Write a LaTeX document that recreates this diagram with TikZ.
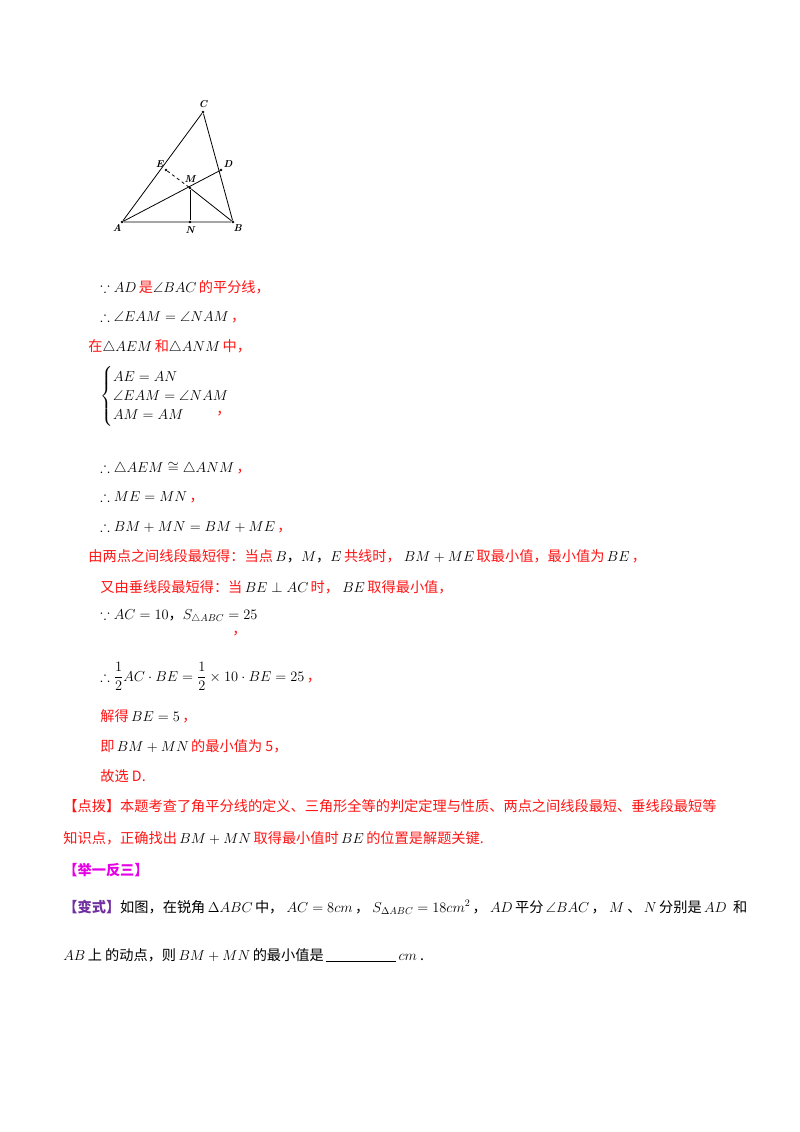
\documentclass[tikz,border=0pt]{standalone}
\usepackage{amsmath, amssymb}
\usepackage{fontspec}
\usetikzlibrary{positioning}
\newfontfamily\cjk{Noto Sans CJK SC}
\definecolor{hired}{RGB}{255,20,20}
\definecolor{himag}{RGB}{230,0,230}
\definecolor{hipur}{RGB}{112,48,160}
\newcommand{\R}[1]{\textcolor{hired}{#1}}

\begin{document}
\begin{tikzpicture}[x=1pt, y=-1pt, line width=0.8pt,
  every node/.style={font=\cjk\fontsize{14.2}{16}\selectfont},
  ln/.style={anchor=base west, inner sep=0pt},
  pt/.style={circle, fill, inner sep=0.9pt},
  lab/.style={font=\bfseries\itshape\fontsize{10}{11}\selectfont, inner sep=1pt}]
\useasboundingbox (0,0) rectangle (800,1132);
% the figure
\node[pt] (A) at (122,222) {};
\node[pt] (B) at (233,222) {};
\node[pt] (C) at (203,112) {};
\node[pt] (E) at (166,170) {};
\node[pt] (D) at (221,170) {};
\node[pt] (M) at (190,188) {};
\node[pt] (N) at (190,222) {};
\node[lab, below left=0pt and -2pt of A] {A};
\node[lab, below right=0pt and -2pt of B] {B};
\node[lab, above=1pt of C] {C};
\node[lab, above left=0pt and 0pt of E] {E};
\node[lab, above right=0pt and 0pt of D] {D};
\node[lab, above=2pt of M] {M};
\node[lab, below=2pt of N] {N};
\draw (A) -- (B) -- (C) -- (A);
\draw (A) -- (D);
\draw (M) -- (B);
\draw (M) -- (N);
\draw[dashed] (E) -- (M);

% the solution
\node[ln] (l1) at (100,292) {$\because AD$\,\R{是}$\angle BAC$\,\R{的平分线，}};
\node[ln] (l2) at (100,321) {$\therefore\angle EAM=\angle NAM$\,\R{，}};
\node[ln] (l3) at (88,351) {\R{在}$\triangle AEM$\,\R{和}$\triangle ANM$\,\R{中，}};
\node[ln] (l4) at (100,400) {$\begin{cases}AE=AN\\ \angle EAM=\angle NAM\\ AM=AM\end{cases}$};
\node[ln] at (216,414) {\R{，}};
\node[ln] (l5) at (100,472) {$\therefore\triangle AEM\cong\triangle ANM$\,\R{，}};
\node[ln] (l6) at (100,501) {$\therefore ME=MN$\,\R{，}};
\node[ln] (l7) at (100,531) {$\therefore BM+MN=BM+ME$\,\R{，}};
\node[ln] (l8) at (88,561) {\R{由两点之间线段最短得：当点}\,$B$，$M$，$E$\,\R{共线时，}\ $BM+ME$\,\R{取最小值，最小值为}\,$BE$\,\R{，}};
\node[ln] (l9) at (100,592) {\R{又由垂线段最短得：当}\,$BE\perp AC$\,\R{时，}\ $BE$\,\R{取得最小值，}};
\node[ln] (l10) at (100,619) {$\because AC=10$，$S_{\triangle ABC}=25$};
\node[ln] at (232,634) {\R{，}};
\node[ln] (l11) at (100,681) {$\therefore\dfrac12 AC\cdot BE=\dfrac12\times10\cdot BE=25$\,\R{，}};
\node[ln] (l12) at (100,721) {\R{解得}\,$BE=5$\,\R{，}};
\node[ln] (l13) at (100,751) {\R{即}\,$BM+MN$\,\R{的最小值为 5，}};
\node[ln] (l14) at (100,781) {\R{故选 D.}};
\node[ln] (l15) at (63,811) {\R{【点拨】本题考查了角平分线的定义、三角形全等的判定定理与性质、两点之间线段最短、垂线段最短等}};
\node[ln] (l16) at (63,843) {\R{知识点，正确找出}\,$BM+MN$\,\R{取得最小值时}\,$BE$\,\R{的位置是解题关键.}};
\node[ln] (l17) at (63,875) {\textcolor{himag}{\bfseries 【举一反三】}};
\node[ln] (l18) at (63,912) {\textcolor{hipur}{\bfseries 【变式】}如图，在锐角\,$\Delta ABC$\,中，\ $AC=8cm$\,，\ $S_{\Delta ABC}=18cm^2$\,，\ $AD$\,平分\,$\angle BAC$\,，\ $M$\ 、\,$N$\,分别是\,$AD$\ \ 和};
\node[ln] (l19) at (63,960) {$AB$\,上\ 的动点，则\,$BM+MN$\,的最小值是\,\rule[-2pt]{70pt}{0.8pt}\,$cm$\ .};
\end{tikzpicture}
\end{document}
